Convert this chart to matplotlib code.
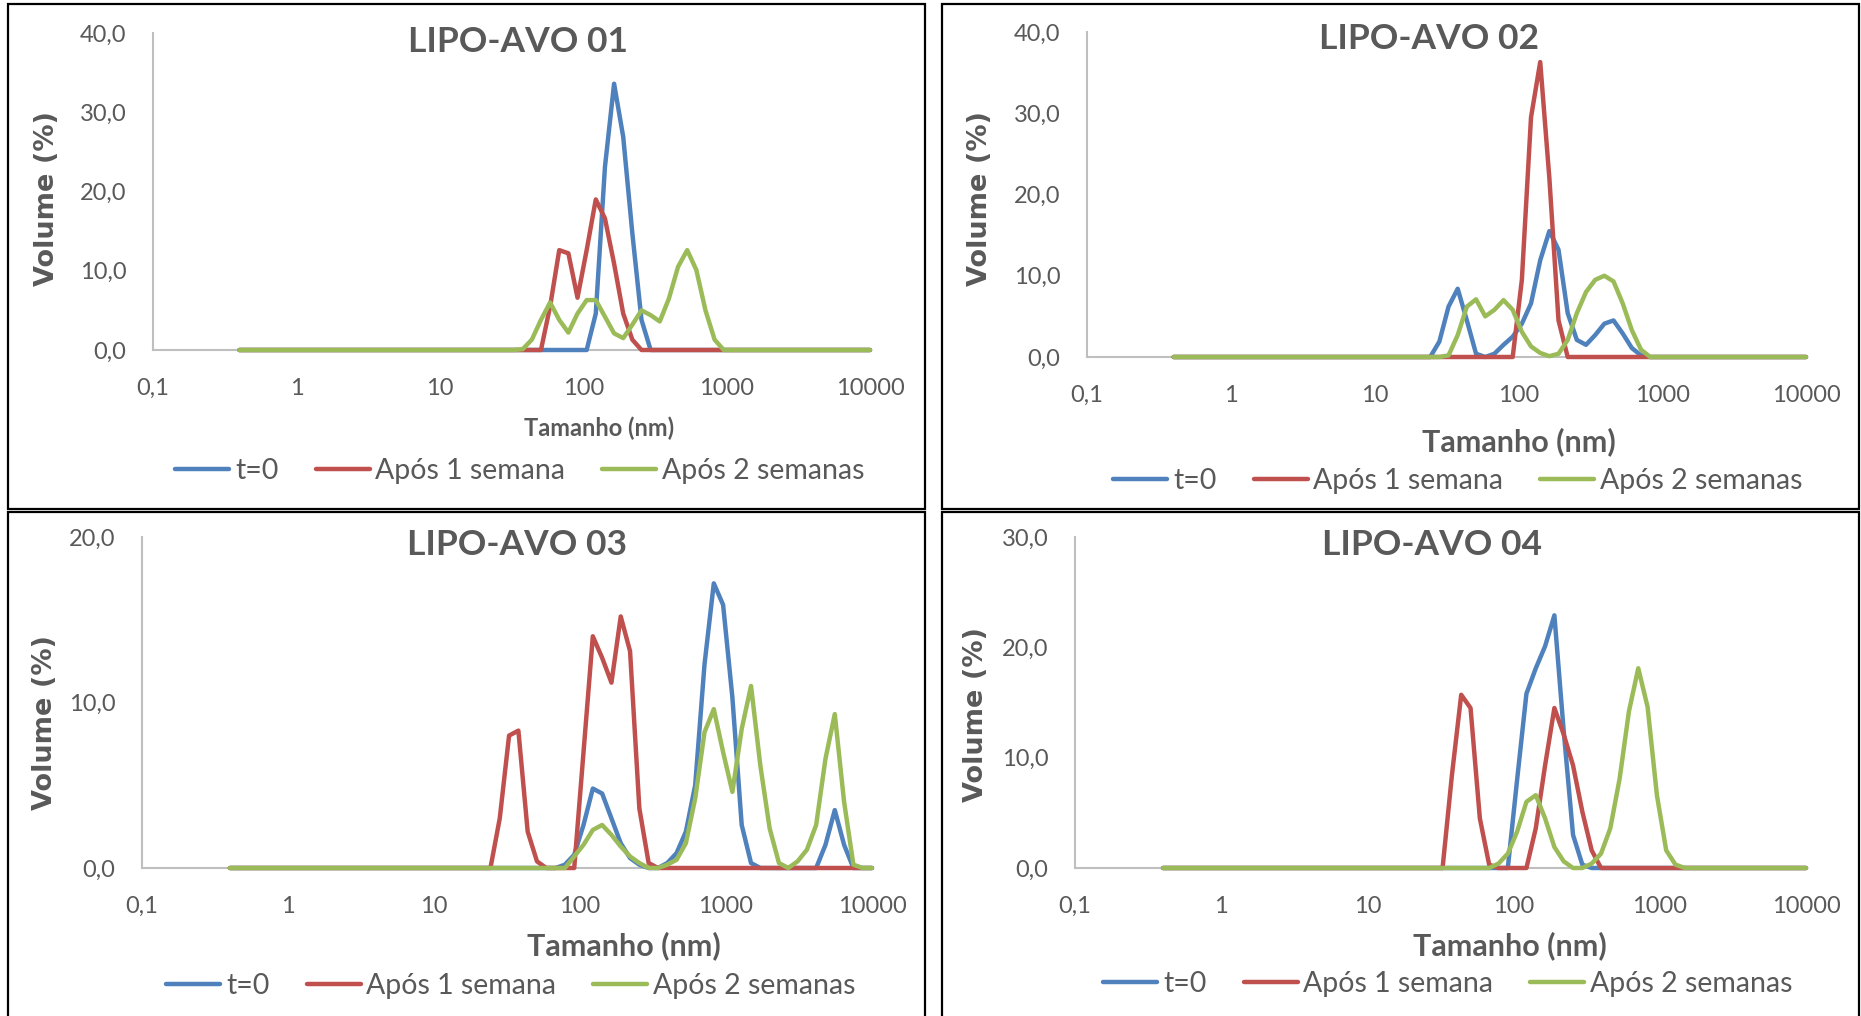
import matplotlib
matplotlib.use("Agg")
import matplotlib.pyplot as plt
from matplotlib.patches import Rectangle
from matplotlib.ticker import FixedLocator, NullLocator

# size classes (nm) and volume (%)
AVO01_T0_NM = [0.4, 91.28, 105.7, 122.4, 141.8, 164.2, 190.1, 220.2, 255.0, 295.3, 10000]
AVO01_T0_VOL = [0, 0, 0, 4.6, 23.1, 33.6, 26.9, 14.7, 3.8, 0, 0]
AVO01_W1_NM = [0.4, 50.75, 58.77, 68.06, 78.82, 91.28, 105.7, 122.4, 141.8, 164.2, 190.1, 220.2, 255.0, 10000]
AVO01_W1_VOL = [0, 0, 5.5, 12.6, 12.2, 6.6, 12.6, 19.0, 16.6, 10.9, 4.6, 1.3, 0, 0]
AVO01_W2_NM = [0.4, 32.67, 37.84, 43.82, 50.75, 58.77, 68.06, 78.82, 91.28, 105.7, 122.4, 141.8, 164.2,
               190.1, 220.2, 255.0, 295.3, 342.0, 396.1, 458.7, 531.2, 615.1, 712.4, 825.0, 955.4, 10000]
AVO01_W2_VOL = [0, 0, 0.1, 1.3, 3.8, 6.0, 3.8, 2.2, 4.6, 6.3, 6.3, 4.2, 2.1,
                1.5, 3.2, 5.0, 4.4, 3.6, 6.5, 10.5, 12.6, 10.1, 5.0, 1.3, 0, 0]

AVO02_T0_NM = [0.4, 24.36, 28.21, 32.67, 37.84, 43.82, 50.75, 58.77, 68.06, 78.82, 91.28, 105.7, 122.4,
               141.8, 164.2, 190.1, 220.2, 255.0, 295.3, 342.0, 396.1, 458.7, 531.2, 615.1, 712.4, 825.0, 10000]
AVO02_T0_VOL = [0, 0, 1.9, 6.2, 8.4, 4.5, 0.4, 0, 0.4, 1.5, 2.5, 4.1, 6.6,
                11.9, 15.5, 13.2, 5.4, 2.1, 1.5, 2.7, 4.1, 4.5, 2.9, 1.1, 0.2, 0, 0]
AVO02_W1_NM = [0.4, 91.28, 105.7, 122.4, 141.8, 164.2, 190.1, 220.2, 10000]
AVO02_W1_VOL = [0, 0, 9.5, 29.5, 36.3, 22.0, 4.5, 0, 0]
AVO02_W2_NM = [0.4, 28.21, 32.67, 37.84, 43.82, 50.75, 58.77, 68.06, 78.82, 91.28, 105.7, 122.4, 141.8,
               164.2, 190.1, 220.2, 255.0, 295.3, 342.0, 396.1, 458.7, 531.2, 615.1, 712.4, 825.0, 10000]
AVO02_W2_VOL = [0, 0, 0.2, 2.7, 6.2, 7.1, 5.0, 5.8, 7.0, 5.8, 3.1, 1.3, 0.5,
                0.1, 0.4, 2.1, 5.4, 8.0, 9.5, 10.0, 9.3, 6.6, 3.3, 0.9, 0, 0]

AVO03_T0_NM = [0.4, 68.06, 78.82, 91.28, 105.7, 122.4, 141.8, 164.2, 190.1, 220.2, 255.0, 295.3, 342.0,
               396.1, 458.7, 531.2, 615.1, 712.4, 825.0, 955.4, 1106, 1281, 1484, 1718,
               4145, 4801, 5560, 6439, 7456, 10000]
AVO03_T0_VOL = [0, 0, 0.2, 0.8, 2.6, 4.8, 4.5, 3.0, 1.5, 0.6, 0.2, 0, 0,
                0.3, 0.9, 2.2, 5.0, 12.3, 17.2, 15.9, 10.3, 2.6, 0.3, 0,
                0, 1.4, 3.5, 1.4, 0, 0]
AVO03_W1_NM = [0.4, 24.36, 28.21, 32.67, 37.84, 43.82, 50.75, 58.77, 91.28, 105.7, 122.4, 141.8, 164.2,
               190.1, 220.2, 255.0, 295.3, 342.0, 10000]
AVO03_W1_VOL = [0, 0, 3.0, 8.0, 8.3, 2.2, 0.4, 0, 0, 7.0, 14.0, 12.7, 11.2,
                15.2, 13.1, 3.6, 0.3, 0, 0]
AVO03_W2_NM = [0.4, 78.82, 91.28, 105.7, 122.4, 141.8, 164.2, 190.1, 220.2, 255.0, 295.3, 342.0, 396.1,
               458.7, 531.2, 615.1, 712.4, 825.0, 955.4, 1106, 1281, 1484, 1718, 1990, 2305, 2669,
               3091, 3580, 4145, 4801, 5560, 6439, 7456, 8635, 10000]
AVO03_W2_VOL = [0, 0, 0.7, 1.4, 2.3, 2.6, 2.0, 1.3, 0.7, 0.3, 0, 0, 0.2,
                0.5, 1.5, 4.2, 8.2, 9.6, 7.0, 4.6, 8.4, 11.0, 6.2, 2.4, 0.3, 0,
                0.4, 1.1, 2.6, 6.6, 9.3, 4.0, 0.2, 0, 0]

AVO04_T0_NM = [0.4, 91.28, 105.7, 122.4, 141.8, 164.2, 190.1, 220.2, 255.0, 295.3, 342.0, 10000]
AVO04_T0_VOL = [0, 0, 8.0, 15.8, 18.1, 20.1, 22.9, 12.4, 3.0, 0.3, 0, 0]
AVO04_W1_NM = [0.4, 32.67, 37.84, 43.82, 50.75, 58.77, 68.06, 78.82, 122.4, 141.8, 164.2, 190.1, 220.2,
               255.0, 295.3, 342.0, 396.1, 10000]
AVO04_W1_VOL = [0, 0, 8.4, 15.7, 14.5, 4.5, 0.3, 0, 0, 3.6, 9.3, 14.5, 12.1,
                9.3, 5.1, 1.6, 0, 0]
AVO04_W2_NM = [0.4, 68.06, 78.82, 91.28, 105.7, 122.4, 141.8, 164.2, 190.1, 220.2, 255.0, 295.3, 342.0,
               396.1, 458.7, 531.2, 615.1, 712.4, 825.0, 955.4, 1106, 1281, 1484, 10000]
AVO04_W2_VOL = [0, 0, 0.4, 1.3, 3.3, 6.0, 6.6, 4.5, 1.9, 0.6, 0, 0, 0.4,
                1.3, 3.6, 8.1, 14.2, 18.1, 14.6, 6.6, 1.6, 0.3, 0, 0]

TITLES = ["LIPO-AVO 01", "LIPO-AVO 02", "LIPO-AVO 03", "LIPO-AVO 04"]
YMAX = [40, 40, 20, 30]
SERIES_LABELS = ["t=0", "Após 1 semana", "Após 2 semanas"]
X_TICKS = [0.1, 1, 10, 100, 1000, 10000]
X_TICKLABELS = ["0,1", "1", "10", "100", "1000", "10000"]

COLORS = ["#4F81BD", "#C0504D", "#9BBB59"]
GREY = "#595959"

W, H = 1861, 1016

plt.rcParams['font.family'] = ['Lato', 'DejaVu Sans']

fig = plt.figure(figsize=(W / 100, H / 100), dpi=100)
fig.patch.set_facecolor("white")


def fx(px):
    return px / W


def fy(py):
    return 1 - py / H


# pixel layout of each panel: axes box, title, x label, y label, legend, frame
layouts = [
    dict(ax=(153, 33, 870, 350), title=(518, 42), xlab=(599, 428, 17), ylab=(47, 198),
         leg=(520, 471), frame=(8, 4, 925, 509)),
    dict(ax=(1087, 32, 1806, 357), title=(1429, 39), xlab=(1519, 442, 22), ylab=(980, 198),
         leg=(1458, 481), frame=(942, 4, 1859, 509)),
    dict(ax=(142, 537, 872, 868), title=(517, 545), xlab=(624, 946, 22), ylab=(45, 722),
         leg=(511, 986), frame=(8, 512, 925, 1030)),
    dict(ax=(1075, 537, 1806, 868), title=(1432, 545), xlab=(1510, 946, 22), ylab=(976, 715),
         leg=(1448, 984), frame=(942, 512, 1859, 1030)),
]

panel_data = [
    [(AVO01_T0_NM, AVO01_T0_VOL), (AVO01_W1_NM, AVO01_W1_VOL), (AVO01_W2_NM, AVO01_W2_VOL)],
    [(AVO02_T0_NM, AVO02_T0_VOL), (AVO02_W1_NM, AVO02_W1_VOL), (AVO02_W2_NM, AVO02_W2_VOL)],
    [(AVO03_T0_NM, AVO03_T0_VOL), (AVO03_W1_NM, AVO03_W1_VOL), (AVO03_W2_NM, AVO03_W2_VOL)],
    [(AVO04_T0_NM, AVO04_T0_VOL), (AVO04_W1_NM, AVO04_W1_VOL), (AVO04_W2_NM, AVO04_W2_VOL)],
]

for i, lay in enumerate(layouts):
    l, t, r, b = lay["ax"]
    ax = fig.add_axes([fx(l), fy(b), fx(r - l), (b - t) / H])

    for (xs, ys), color, label in zip(panel_data[i], COLORS, SERIES_LABELS):
        ax.plot(xs, ys, color=color, lw=3.2, label=label, clip_on=False,
                solid_joinstyle="round", solid_capstyle="round")

    ax.set_xscale("log")
    ax.set_xlim(0.1, 10000)
    ax.set_ylim(0, YMAX[i])
    ax.xaxis.set_major_locator(FixedLocator(X_TICKS))
    ax.xaxis.set_minor_locator(NullLocator())
    ax.set_xticklabels(X_TICKLABELS)
    yt = list(range(0, YMAX[i] + 1, 10))
    ax.set_yticks(yt)
    ax.set_yticklabels([f"{v},0" for v in yt])
    ax.tick_params(axis="both", length=0, labelsize=17, labelcolor=GREY)
    ax.tick_params(axis="y", pad=19)
    ax.tick_params(axis="x", pad=20)

    for s in ("top", "right"):
        ax.spines[s].set_visible(False)
    for s in ("left", "bottom"):
        ax.spines[s].set_color("#BFBFBF")
        ax.spines[s].set_linewidth(1.5)
        ax.spines[s].set_zorder(0)
    ax.set_facecolor("none")

    tx, ty = lay["title"]
    fig.text(fx(tx), fy(ty), TITLES[i], ha="center", va="center", fontsize=25.5,
             fontweight="bold", color=GREY)
    xx, xy, xs_ = lay["xlab"]
    fig.text(fx(xx), fy(xy), "Tamanho (nm)", ha="center", va="center", fontsize=xs_,
             fontweight="bold", color=GREY)
    yx, yy = lay["ylab"]
    fig.text(fx(yx), fy(yy), "Volume (%)", ha="center", va="center", rotation=90,
             fontsize=19.5, fontweight="bold", color=GREY, family="DejaVu Sans")

    lx, ly = lay["leg"]
    ax.legend(loc="center", bbox_to_anchor=(fx(lx), fy(ly)), bbox_transform=fig.transFigure,
              ncol=3, frameon=False, fontsize=20.5, handlelength=1.9, handletextpad=0.2,
              columnspacing=1.3, labelcolor=GREY, borderaxespad=0, borderpad=0)

    f0, f1, f2, f3 = lay["frame"]
    fig.add_artist(Rectangle((fx(f0), fy(f3)), fx(f2 - f0), (f3 - f1) / H,
                             transform=fig.transFigure, fill=False, ec="black", lw=1.6))

fig.savefig("out.png", dpi=100)
